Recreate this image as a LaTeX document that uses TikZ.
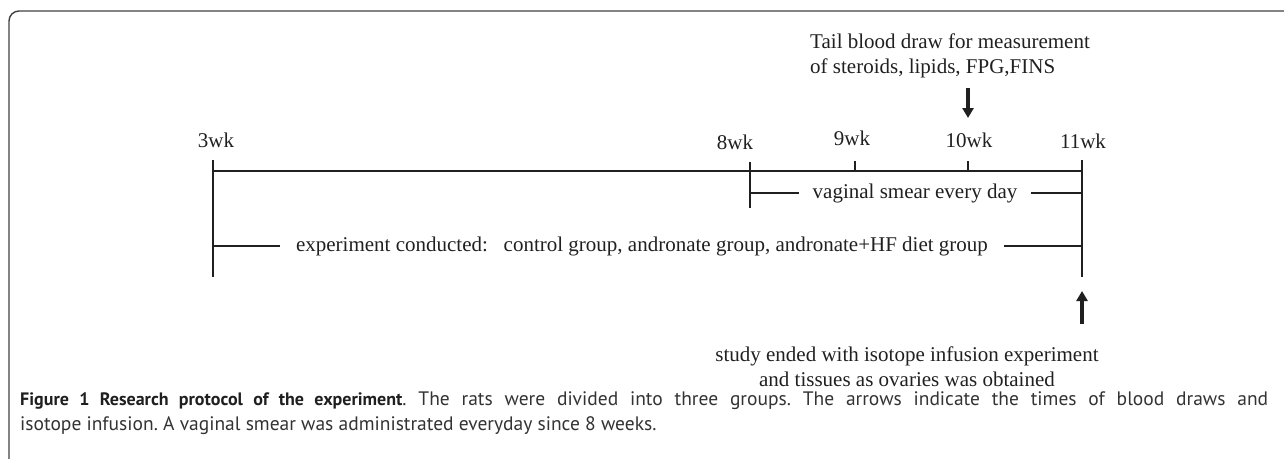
\documentclass[tikz,border=0pt]{standalone}
\usepackage{fontspec}
\setmainfont{Liberation Serif}
\newfontfamily\capfont{PT Sans}
\usetikzlibrary{arrows.meta}
\definecolor{ink}{HTML}{202020}
\definecolor{capink}{HTML}{333333}
\tikzset{
  lbl/.style={font=\fontsize{21}{25}\selectfont, text=ink, inner sep=0pt},
  tl/.style={draw=ink, line width=1.3pt},
  bigarrow/.style={draw=ink, line width=3.6pt, -{Triangle[width=11pt,length=10pt]}},
  frame/.style={draw=black!75, line width=1.4pt, rounded corners=10pt}
}
\begin{document}
\begin{tikzpicture}[x=1pt,y=-1pt]
\useasboundingbox (0,0) rectangle (1284,458);
% frame
\draw[frame] (9,470) -- (9,11) -- (1300,11);
% week labels
\node[lbl] (l3)  at (216,140) {3wk};
\node[lbl] (l8)  at (735,142) {8wk};
\node[lbl] (l9)  at (852,138) {9wk};
\node[lbl] (l10) at (969,140) {10wk};
\node[lbl] (l11) at (1083,141) {11wk};
% timeline coordinates
\coordinate (w3top)  at (213,160);
\coordinate (w3bot)  at (213,277);
\coordinate (w3m)    at (213,171);
\coordinate (w8top)  at (750,162);
\coordinate (w8bot)  at (750,208);
\coordinate (w9top)  at (855,161);
\coordinate (w10top) at (968,161);
\coordinate (w11top) at (1082,160);
\coordinate (w11bot) at (1082,277);
\coordinate (w11m)   at (1082,171);
% main line and ticks
\draw[tl] (w3m) -- (w11m);
\draw[tl] (w3top) -- (w3bot);
\draw[tl] (w8top) -- (w8bot);
\draw[tl] (w9top) -- (w9top |- w3m);
\draw[tl] (w10top) -- (w10top |- w3m);
\draw[tl] (w11top) -- (w11bot);
% vaginal smear row
\node[lbl, inner xsep=13pt] (smear) at (915,193) {vaginal smear every day};
\draw[tl] (w8top |- smear) -- (smear.west);
\draw[tl] (smear.east) -- (w11top |- smear);
% experiment row
\node[lbl, inner xsep=16pt] (exper) at (642,246) {experiment conducted:\ \ \ control group, andronate group, andronate+HF diet group};
\draw[tl] (w3top |- exper) -- (exper.west);
\draw[tl] (exper.east) -- (w11top |- exper);
% top note and arrow
\node[lbl, anchor=west, align=left] (tail) at (810,55.5) {Tail blood draw for measurement\\of steroids, lipids, FPG,FINS};
\coordinate (dn1) at (968,88);
\coordinate (dn2) at (968,118);
\draw[bigarrow] (dn1) -- (dn2);
% bottom note and arrow
\coordinate (up1) at (1082,324);
\coordinate (up2) at (1082,291);
\draw[bigarrow] (up1) -- (up2);
\node[lbl, align=center] (ended) at (907,367) {study ended with isotope infusion experiment\\and tissues as ovaries was obtained};
% caption
\node[anchor=north west, inner sep=0pt, text width=1248pt, align=justify, text=capink,
      font=\capfont\fontsize{19.5}{25}\selectfont\frenchspacing] (cap) at (20,391)
  {{\fontsize{18}{25}\selectfont\bfseries\color{black!88}Figure 1 Research protocol of the experiment}. The rats were divided into three groups. The arrows indicate the times of blood draws and\linebreak isotope infusion. A vaginal smear was administrated everyday since 8 weeks.};
\end{tikzpicture}
\end{document}
